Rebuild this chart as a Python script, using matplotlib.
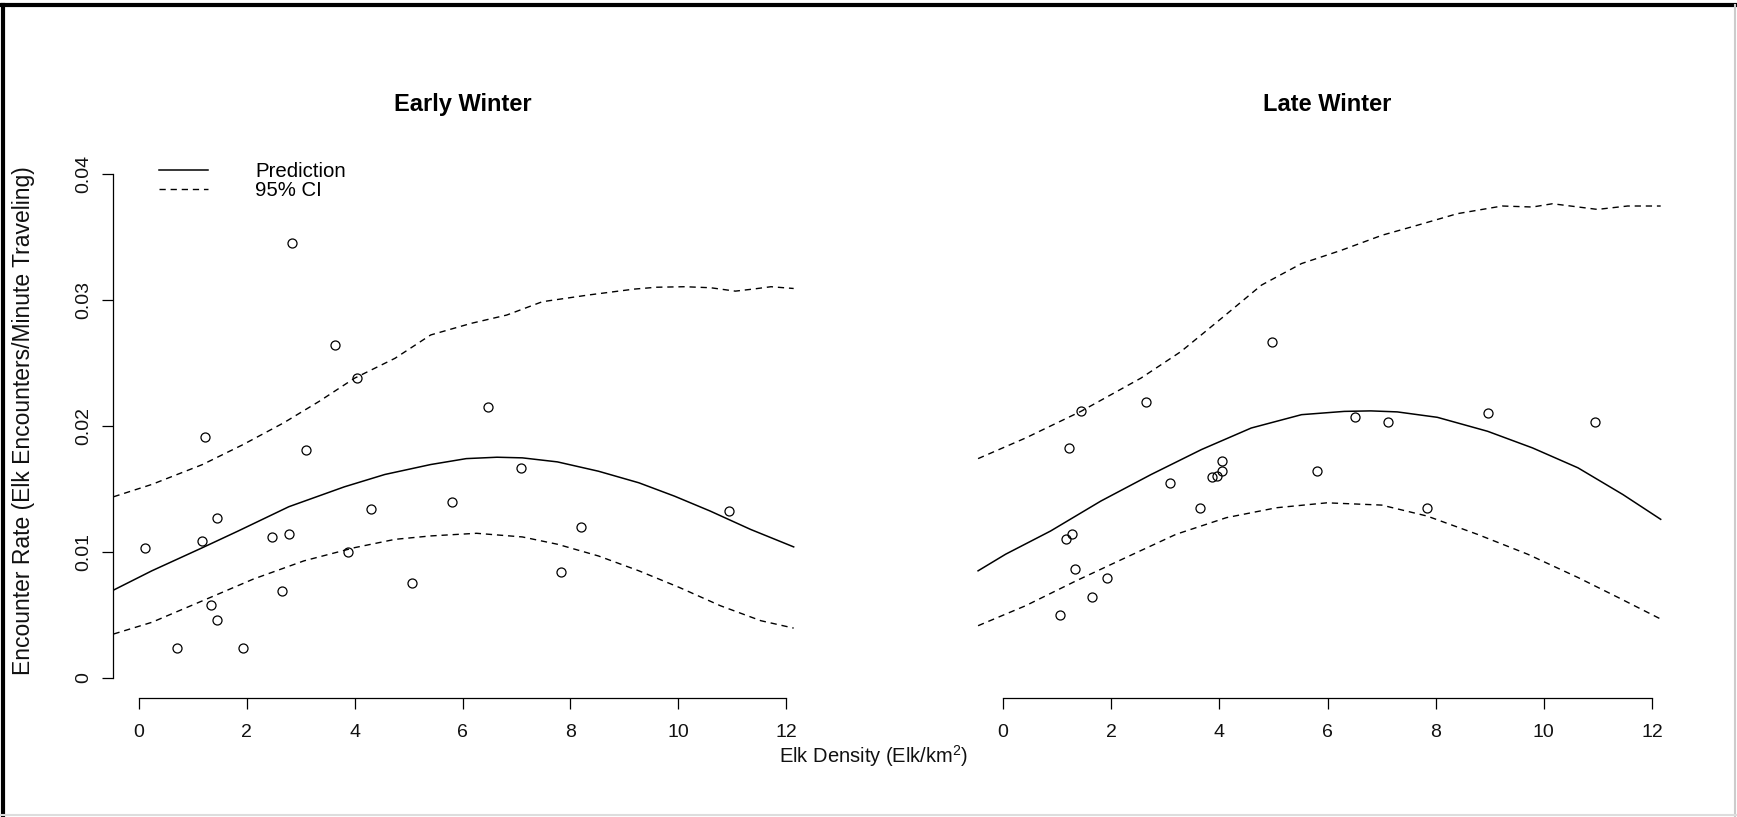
import matplotlib
matplotlib.use("Agg")
import matplotlib.pyplot as plt
from matplotlib.lines import Line2D

plt.rcParams["font.family"] = ["Liberation Sans", "DejaVu Sans"]
plt.rcParams["mathtext.fontset"] = "custom"
plt.rcParams["mathtext.rm"] = "Liberation Sans"
plt.rcParams["mathtext.it"] = "Liberation Sans:italic"

# ---- Early winter: observations ----
early_x = [0.11, 0.71, 1.23, 1.17, 1.45, 1.33, 1.45, 1.93, 2.46, 2.78, 2.65, 2.84,
           3.09, 3.63, 4.05, 3.88, 4.31, 5.07, 5.80, 6.48, 7.09, 7.83, 8.20, 10.94]
early_y = [0.0103, 0.00235, 0.01916, 0.0109, 0.01266, 0.00578, 0.00459, 0.00235,
           0.01121, 0.0114, 0.00689, 0.03451, 0.0181, 0.02644, 0.0238, 0.01003,
           0.01338, 0.00757, 0.01396, 0.02153, 0.0167, 0.00844, 0.0120, 0.01327]

# ---- Early winter: fitted curve and 95% CI ----
early_fit_x = [-0.47, 0.24, 1.18, 1.84, 2.78, 3.81, 4.56, 5.41, 6.07, 6.64, 7.11, 7.76,
               8.52, 9.27, 9.93, 10.59, 11.34, 12.14]
early_fit_y = [0.00697, 0.0085, 0.01034, 0.01166, 0.01359, 0.01517, 0.01615, 0.01694,
               0.01741, 0.01752, 0.01747, 0.01715, 0.01641, 0.01549, 0.01443, 0.01325,
               0.01179, 0.0104]
early_lo_x = [-0.47, 0.24, 1.18, 2.12, 3.06, 4.0, 4.75, 5.41, 6.26, 7.11, 7.76, 8.52,
              9.27, 10.02, 10.78, 11.53, 12.14]
early_lo_y = [0.00348, 0.00441, 0.00612, 0.00784, 0.00929, 0.01034, 0.0110, 0.01127,
              0.01148, 0.01119, 0.01061, 0.00968, 0.0085, 0.00718, 0.00573, 0.00454, 0.00395]
early_hi_x = [-0.47, 0.24, 1.18, 1.93, 2.68, 3.34, 4.0, 4.75, 5.41, 6.16, 6.82, 7.48,
              8.33, 9.18, 9.6, 10.12, 10.6, 11.06, 11.4, 11.72, 12.14]
early_hi_y = [0.01438, 0.01536, 0.01694, 0.01852, 0.02024, 0.02195, 0.0238, 0.02538,
              0.02723, 0.02815, 0.02881, 0.02987, 0.0304, 0.03087, 0.03102, 0.03106,
              0.03098, 0.03071, 0.03088, 0.03106, 0.03092]

# ---- Late winter: observations ----
late_x = [1.45, 1.23, 2.65, 4.97, 1.28, 1.16, 1.33, 1.93, 1.64, 1.06, 3.08, 3.64,
          3.87, 3.96, 4.05, 4.05, 5.80, 6.50, 7.11, 7.84, 8.96, 10.95]
late_y = [0.02116, 0.01828, 0.02193, 0.02665, 0.01142, 0.0110, 0.00863, 0.00794,
          0.00646, 0.00499, 0.01544, 0.01348, 0.01594, 0.01604, 0.01646, 0.01723,
          0.01641, 0.02074, 0.02034, 0.01348, 0.02103, 0.02034]

# ---- Late winter: fitted curve and 95% CI ----
late_fit_x = [-0.46, 0.05, 0.88, 1.81, 2.74, 3.67, 4.59, 5.52, 6.31, 6.8, 7.29, 8.03,
              8.96, 9.79, 10.63, 11.46, 12.16]
late_fit_y = [0.0085, 0.00982, 0.01166, 0.01404, 0.01615, 0.01813, 0.01984, 0.0209,
              0.02116, 0.0212, 0.02112, 0.02069, 0.01958, 0.01826, 0.01668, 0.01456, 0.01259]
late_lo_x = [-0.46, 0.42, 1.35, 2.27, 3.2, 4.13, 5.06, 5.99, 7.0, 7.84, 8.77, 9.70,
             10.63, 11.37, 12.16]
late_lo_y = [0.00414, 0.00573, 0.0077, 0.00955, 0.0114, 0.01272, 0.01351, 0.0139,
             0.01372, 0.01285, 0.0114, 0.00982, 0.00797, 0.00639, 0.00467]
late_hi_x = [-0.46, 0.42, 1.44, 2.55, 3.29, 4.04, 4.78, 5.52, 6.26, 7.01, 7.66, 8.40,
             9.23, 9.79, 10.16, 10.99, 11.55, 12.16]
late_hi_y = [0.01741, 0.01905, 0.02116, 0.0238, 0.02591, 0.02855, 0.03119, 0.0329,
             0.03396, 0.03515, 0.03594, 0.03686, 0.03747, 0.03739, 0.03765, 0.0372,
             0.03747, 0.03747]

x_ticks = [0, 2, 4, 6, 8, 10, 12]
y_ticks = [0, 0.01, 0.02, 0.03, 0.04]
y_tick_labels = ["0", "0.01", "0.02", "0.03", "0.04"]

W, H = 1737, 817
fig = plt.figure(figsize=(W / 100, H / 100), dpi=100)
ax1 = fig.add_axes([113 / W, 1 - 698 / H, 699 / W, 544 / H])
ax2 = fig.add_axes([977 / W, 1 - 698 / H, 701 / W, 544 / H])

DASH = (0, (4.5, 3.5))


def panel(ax, title, px, py, fx, fy, lx, ly, hx, hy, yaxis):
    ax.plot(fx, fy, color="black", lw=1.1, label="Prediction")
    ax.plot(lx, ly, color="black", lw=1.0, ls=DASH, label="95% CI")
    ax.plot(hx, hy, color="black", lw=1.0, ls=DASH)
    ax.plot(px, py, "o", mfc="none", mec="black", ms=6.5, mew=0.9, ls="none")
    ax.set_xlim(-0.48, 12.48)
    ax.set_ylim(-0.0016, 0.0416)
    for s in ("top", "right"):
        ax.spines[s].set_visible(False)
    ax.spines["bottom"].set_bounds(0, 12)
    ax.set_xticks(x_ticks)
    ax.set_xticklabels([str(t) for t in x_ticks], fontsize=14, color="#111")
    ax.tick_params(axis="x", direction="out", length=8, width=0.9, pad=11)
    if yaxis:
        ax.spines["left"].set_bounds(0, 0.04)
        ax.set_yticks(y_ticks)
        ax.set_yticklabels(y_tick_labels, rotation=90, va="center", fontsize=14, color="#111")
        ax.tick_params(axis="y", direction="out", length=8, width=0.9, pad=7)
    else:
        ax.spines["left"].set_visible(False)
        ax.set_yticks([])
    for s in ax.spines.values():
        s.set_linewidth(0.9)
    ax.text(0.5, 1.091, title, transform=ax.transAxes, ha="center", va="center",
            fontsize=17, fontweight="bold")


panel(ax1, "Early Winter", early_x, early_y, early_fit_x, early_fit_y,
      early_lo_x, early_lo_y, early_hi_x, early_hi_y, True)
panel(ax2, "Late Winter", late_x, late_y, late_fit_x, late_fit_y,
      late_lo_x, late_lo_y, late_hi_x, late_hi_y, False)

ax1.legend(loc="upper left", bbox_to_anchor=(159 / W, 1 - 162 / H),
           bbox_transform=fig.transFigure, frameon=False, fontsize=14.7,
           handlelength=2.4, handletextpad=2.3, labelspacing=0.0,
           borderpad=0, borderaxespad=0)

fig.text(24 / W, 1 - 421 / H, "Encounter Rate (Elk Encounters/Minute Traveling)",
         rotation=90, ha="center", va="center", fontsize=16.5, color="#111")
fig.text(874 / W, 1 - 756 / H, r"Elk Density (Elk/km$^\mathregular{2}$)",
         ha="center", va="center", fontsize=14.5, color="#111")

# outer frame
fig.add_artist(Line2D([3 / W, 3 / W], [0, 1 - 5 / H], transform=fig.transFigure,
                      color="black", lw=3))
fig.add_artist(Line2D([0, 1], [1 - 5 / H, 1 - 5 / H], transform=fig.transFigure,
                      color="black", lw=3))
fig.add_artist(Line2D([1 - 2 / W, 1 - 2 / W], [0, 1 - 5 / H], transform=fig.transFigure,
                      color="#cccccc", lw=1.5))
fig.add_artist(Line2D([0, 1], [2 / H, 2 / H], transform=fig.transFigure,
                      color="#dddddd", lw=1.5))

fig.savefig("out.png", dpi=100)
